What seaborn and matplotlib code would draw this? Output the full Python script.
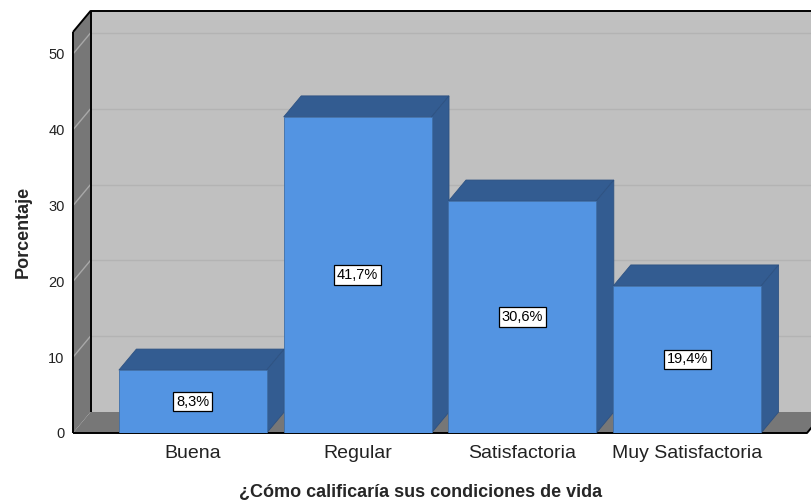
import matplotlib
matplotlib.use("Agg")
import matplotlib.pyplot as plt
from matplotlib.patches import Polygon
import seaborn as sns
import pandas as pd

# Datos
categorias = ["Buena", "Regular", "Satisfactoria", "Muy Satisfactoria"]
porcentajes = [8.3, 41.7, 30.6, 19.4]
marcas_y = [0, 10, 20, 30, 40, 50]

sns.set_theme(style="white")
plt.rcParams["font.family"] = ["Liberation Sans", "DejaVu Sans"]

# Colores del estilo 3D
FRENTE = "#5394E2"
OSCURO = "#335C91"
PARED = "#C0C0C0"
PARED_LAT = "#777777"
REJILLA = "#B3B3B3"

df = pd.DataFrame({"categoria": categorias, "porcentaje": porcentajes})

W, H = 811, 504
fig = plt.figure(figsize=(W / 100, H / 100), dpi=100)
x0p, x1p, y0p, y1p = 73, 807, 433, 32
ax = fig.add_axes([x0p / W, (H - y0p) / H, (x1p - x0p) / W, (y0p - y1p) / H])

xmin, xmax = -0.727, 3.727
ymin, ymax = 0, 52.9
ancho = 0.897
# profundidad de la perspectiva (unidades de datos)
px_x = (x1p - x0p) / (xmax - xmin)
px_y = (y0p - y1p) / (ymax - ymin)
dx = 17.5 / px_x
dy = 21.0 / px_y

# Caras frontales de las barras
sns.barplot(data=df, x="categoria", y="porcentaje", color=FRENTE, saturation=1,
            width=ancho, edgecolor="#3F6FA8", linewidth=0.6, ax=ax)
ax.set_xlim(xmin, xmax)
ax.set_ylim(ymin, ymax)

def poly(pts, fc, z, ec="none", lw=0.0):
    p = Polygon(pts, closed=True, facecolor=fc, edgecolor=ec, linewidth=lw,
                zorder=z, clip_on=False)
    ax.add_patch(p)

# Pared del fondo
poly([(xmin + dx, dy), (xmax + dx, dy), (xmax + dx, ymax + dy), (xmin + dx, ymax + dy)],
     PARED, 0.2)
for v in marcas_y[1:]:
    ax.plot([xmin + dx, xmax + dx], [v + dy, v + dy], color=REJILLA, lw=1.0,
            zorder=0.3, clip_on=False)

# Pared lateral y suelo
poly([(xmin, 0), (xmin + dx, dy), (xmin + dx, ymax + dy), (xmin, ymax)], PARED_LAT, 0.6)
poly([(xmin, 0), (xmax, 0), (xmax + dx, dy), (xmin + dx, dy)], PARED_LAT, 0.6)
for v in marcas_y[1:]:
    ax.plot([xmin, xmin + dx], [v, v + dy], color="#A8A8A8", lw=1.0, zorder=0.7,
            clip_on=False)

# Bordes
kw = dict(color="black", lw=1.4, zorder=0.9, clip_on=False, solid_capstyle="butt")
ax.plot([xmin, xmin], [0, ymax], **kw)
ax.plot([xmin, xmin + dx, xmax + dx], [ymax, ymax + dy, ymax + dy], **kw)
ax.plot([xmin + dx, xmin + dx], [dy, ymax + dy], **kw)
ax.plot([xmin, xmax, xmax + dx], [0, 0, dy], **kw)

# Caras superior y lateral de cada barra
for i, (barra, v) in enumerate(zip(ax.patches, porcentajes)):
    xa = i - ancho / 2
    xb = i + ancho / 2
    barra.set_zorder(2.5 + i)
    poly([(xa, v), (xb, v), (xb + dx, v + dy), (xa + dx, v + dy)], OSCURO, 2 + i,
         ec="#2E5282", lw=0.6)
    poly([(xb, 0), (xb + dx, dy), (xb + dx, v + dy), (xb, v)], OSCURO, 2 + i,
         ec="#2E5282", lw=0.6)
    ax.text(i, v / 2, f"{v:.1f}%".replace(".", ","), ha="center", va="center",
            fontsize=10.5, color="black", zorder=20,
            bbox=dict(boxstyle="square,pad=0.2", fc="white", ec="black", lw=0.9))

for s in ax.spines.values():
    s.set_visible(False)
ax.patch.set_visible(False)
ax.set_yticks(marcas_y)
ax.set_yticklabels([str(v) for v in marcas_y])
ax.tick_params(axis="y", length=0, pad=6, labelsize=10.5, labelcolor="#222222")
ax.tick_params(axis="x", length=0, pad=9, labelsize=14, labelcolor="#222222")
ax.set_xlabel("")
ax.set_ylabel("")

fig.text(421 / W, (H - 492) / H, "¿Cómo calificaría sus condiciones de vida",
         ha="center", va="center", fontsize=13, fontweight="bold")
fig.text(23 / W, (H - 232) / H, "Porcentaje", ha="center", va="center",
         rotation=90, fontsize=13, fontweight="bold")

fig.savefig("out.png", dpi=100, facecolor="white")
